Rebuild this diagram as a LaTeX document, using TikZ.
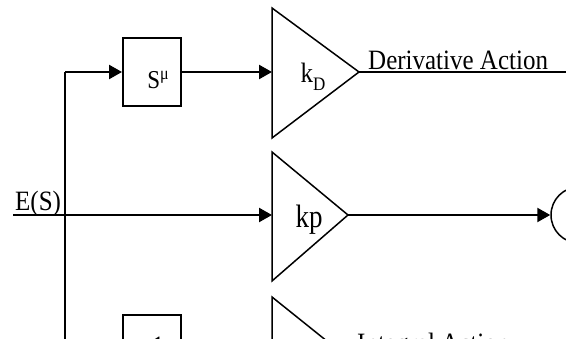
\documentclass[tikz,border=0pt]{standalone}
\usepackage{fontspec}
\setmainfont{Liberation Serif}
\usetikzlibrary{arrows.meta}
\newcommand{\tall}[1]{\scalebox{1}[1.12]{#1}}
\begin{document}
\begin{tikzpicture}[x=1pt,y=-1pt,
  sig/.style={line width=2.4pt,line join=miter},
  arr/.style={sig,-{Triangle[length=13pt,width=14pt]}},
  blk/.style={draw,line width=2pt,minimum width=58pt,minimum height=68pt,inner sep=0pt},
  amp/.style={line width=1.5pt,line join=miter},
  lbl/.style={font=\fontsize{25}{30}\selectfont,inner sep=0pt}]
\useasboundingbox (0,0) rectangle (566,339);
\clip (0,0) rectangle (566,339);
% blocks
\node[blk] (sbox) at (152,72) {};
\node[lbl,font=\fontsize{23}{28}\selectfont] (slbl) at (158,80) {\tall{S\raisebox{8pt}{\fontsize{16}{16}\selectfont μ}}};
\node[blk] (ibox) at (152,349) {};
\node[lbl,anchor=north] (ilbl) at (158,337) {\tall{1}};
% top amplifier (k_D)
\coordinate (tdT) at (272,8);
\coordinate (tdB) at (272,138);
\coordinate (tdA) at (359,72);
\coordinate (tdIn) at (272,72);
\draw[amp] (tdT) -- (tdA) -- (tdB) -- cycle;
\node[lbl] (kd) at (313,77) {\tall{k\raisebox{-7pt}{\fontsize{17}{17}\selectfont D}}};
% middle amplifier (kp)
\coordinate (mtT) at (272,152);
\coordinate (mtB) at (272,281);
\coordinate (mtA) at (348,215);
\coordinate (mtIn) at (272,215);
\draw[amp] (mtT) -- (mtA) -- (mtB) -- cycle;
\node[lbl,font=\fontsize{27}{32}\selectfont] (kp) at (309,220) {\scalebox{1}[1.2]{kp}};
% bottom amplifier
\coordinate (btT) at (272,297);
\coordinate (btA) at (353,362);
\coordinate (btB) at (272,427);
\draw[amp] (btT) -- (btA) -- (btB) -- cycle;
% summing junction
\node[draw,circle,line width=1.5pt,minimum size=56pt,inner sep=0pt] (sum) at (579,215) {};
% signals
\coordinate (ein) at (13,215);
\coordinate (split) at (65,72);
\coordinate (corner) at (65,349);
\coordinate (dend) at (570,72);
\coordinate (iend) at (570,362);
\draw[arr] (split) -- (sbox.west);
\draw[sig] (split) -- (corner);
\draw[arr] (corner) -- (ibox.west);
\draw[arr] (sbox.east) -- (tdIn);
\draw[sig] (tdA) -- (dend);
\draw[arr] (ein) -- (mtIn);
\draw[arr] (mtA) -- (sum.west);
\draw[sig] (btA) -- (iend);
% labels
\node[lbl,anchor=base west] (es) at (15,211) {\tall{E(S)}};
\node[lbl,anchor=base west] (da) at (368,70) {\tall{Derivative Action}};
\node[lbl,anchor=base west] (ia) at (357,353) {\tall{Integral Action}};
\end{tikzpicture}
\end{document}
